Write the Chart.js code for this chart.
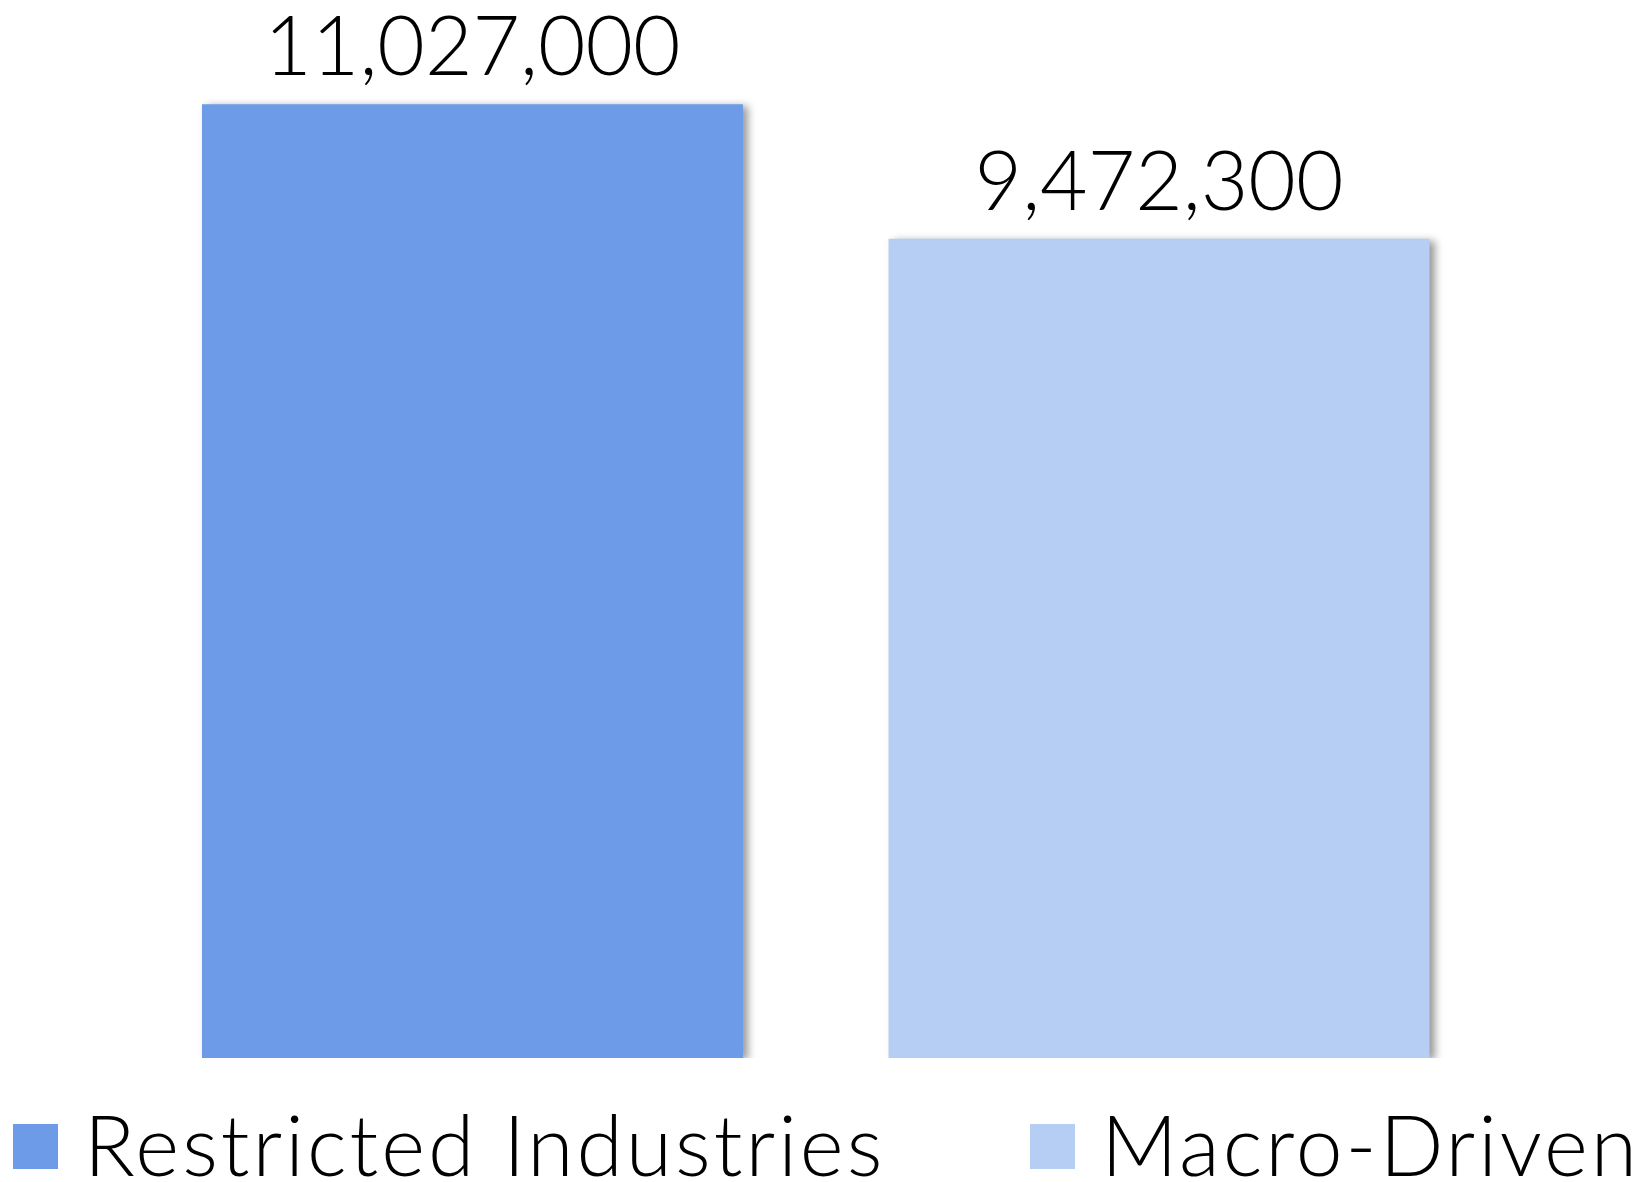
<!DOCTYPE html>
<html>
<head>
<meta charset="utf-8">
<script src="https://cdn.jsdelivr.net/npm/chart.js@4.4.1/dist/chart.umd.min.js"></script>
<style>
    html, body { margin: 0; padding: 0; background: #fff; }
    #wrap { position: relative; width: 1645px; height: 1182px; }
    #legend {
        position: absolute; left: 0; top: 1104px; width: 1645px; height: 78px;
        box-sizing: border-box; padding: 0 5px 0 13px;
        display: flex; justify-content: space-between; align-items: center;
        font-family: Lato, sans-serif; font-size: 84px; font-weight: 300;
        letter-spacing: 3px; color: #000;
    }
    .legend-item { display: flex; align-items: center; white-space: nowrap; }
    .legend-box { width: 45px; height: 45px; margin-right: 26px; margin-top: 6px; }
</style>
</head>
<body>
<div id="wrap">
    <canvas id="chart" width="1645" height="1182"></canvas>
    <div id="legend"></div>
</div>
<script>
// --- Data ---
const categories = [''];
const seriesNames = ['Restricted Industries', 'Macro-Driven'];
const seriesValues = [[11027000], [9472300]];
const seriesColors = ['#6d9be8', '#b6cdf4'];

// Gray drop shadow behind the bars
const barShadow = {
    id: 'barShadow',
    beforeDatasetsDraw(chart) {
        const ctx = chart.ctx;
        ctx.save();
        ctx.shadowColor = 'rgba(0, 0, 0, 0.4)';
        ctx.shadowOffsetX = 5;
        ctx.shadowOffsetY = 2;
        ctx.shadowBlur = 8;
    },
    afterDatasetsDraw(chart) {
        chart.ctx.restore();
    }
};

// Value printed above each bar
const valueLabels = {
    id: 'valueLabels',
    afterDatasetsDraw(chart) {
        const ctx = chart.ctx;
        ctx.save();
        ctx.font = '300 82px Lato, sans-serif';
        ctx.fillStyle = '#000';
        ctx.textAlign = 'center';
        ctx.textBaseline = 'alphabetic';
        chart.data.datasets.forEach((ds, i) => {
            chart.getDatasetMeta(i).data.forEach((bar, j) => {
                ctx.fillText(ds.data[j].toLocaleString('en-US'), bar.x, bar.y - 29);
            });
        });
        ctx.restore();
    }
};

const chart = new Chart(document.getElementById('chart'), {
    type: 'bar',
    data: {
        labels: categories,
        datasets: seriesNames.map((name, i) => ({
            label: name,
            data: seriesValues[i],
            backgroundColor: seriesColors[i],
            borderWidth: 0
        }))
    },
    options: {
        responsive: false,
        animation: false,
        categoryPercentage: 0.8416,
        barPercentage: 0.788,
        layout: { padding: { left: 0, right: 13.5, top: 20, bottom: 124 } },
        plugins: {
            legend: { display: false },
            tooltip: { enabled: false }
        },
        scales: {
            x: { display: false },
            y: { display: false, min: 0, max: 12000000 }
        }
    },
    plugins: [barShadow, valueLabels]
});

// Legend built from the datasets
const legendEl = document.getElementById('legend');
chart.data.datasets.forEach(ds => {
    const item = document.createElement('div');
    item.className = 'legend-item';
    item.innerHTML = `<span class="legend-box" style="background:${ds.backgroundColor}"></span><span>${ds.label}</span>`;
    legendEl.appendChild(item);
});
</script>
</body>
</html>
